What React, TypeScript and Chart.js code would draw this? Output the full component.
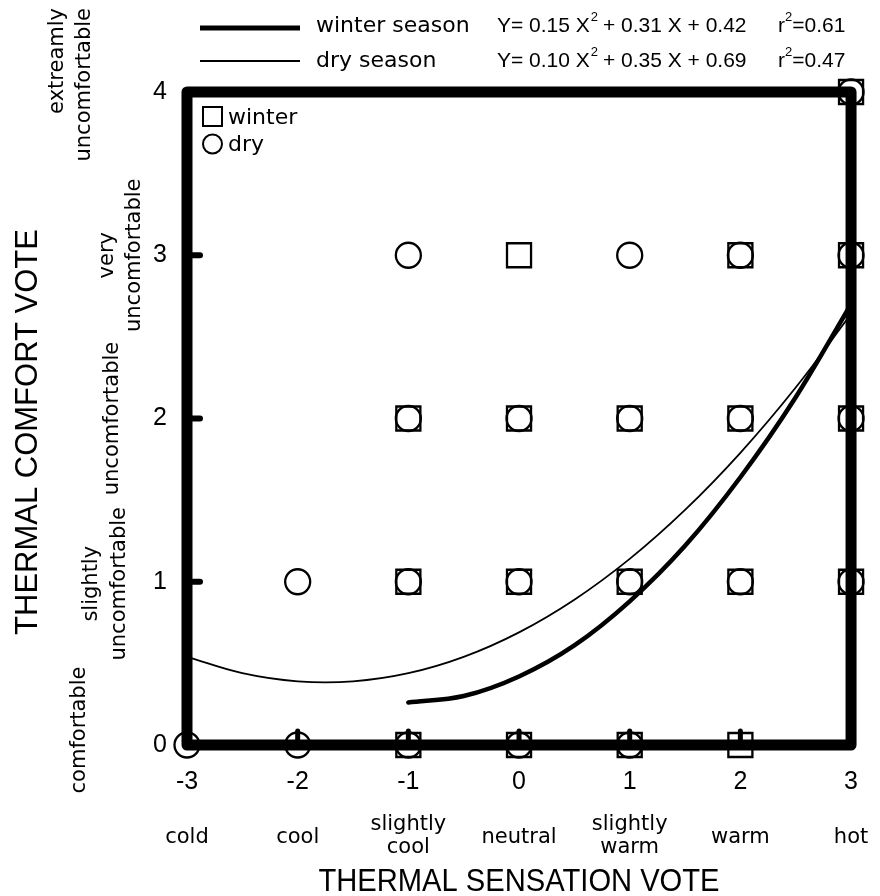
import React, { useEffect, useRef } from 'react';
import { Chart, registerables } from 'chart.js';

Chart.register(...registerables);

// ---- data ----
const winterX = [-1, 0, 1, 2, -1, 0, 1, 2, 3, -1, 0, 1, 2, 3, 0, 2, 3, 3];
const winterY = [0, 0, 0, 0, 1, 1, 1, 1, 1, 2, 2, 2, 2, 2, 3, 3, 3, 4];
const dryX = [-3, -2, -1, 0, 1, -2, -1, 0, 1, 2, 3, -1, 0, 1, 2, 3, -1, 1, 2, 3, 3];
const dryY = [0, 0, 0, 0, 0, 1, 1, 1, 1, 1, 1, 2, 2, 2, 2, 2, 3, 3, 3, 3, 4];

const winterFitX = [-1, -0.5, 0, 0.5, 1, 1.5, 2, 2.5, 3];
const winterFitY = [0.26, 0.3, 0.42, 0.61, 0.88, 1.22, 1.64, 2.13, 2.7];
const dryFitX = [-3, -2.5, -2, -1.5, -1, -0.5, 0, 0.5, 1, 1.5, 2, 2.5, 3];
const dryFitY = [0.54, 0.44, 0.39, 0.39, 0.44, 0.54, 0.69, 0.89, 1.14, 1.44, 1.79, 2.19, 2.64];

const xTickValues = [-3, -2, -1, 0, 1, 2, 3];
const xCategories = [['cold'], ['cool'], ['slightly', 'cool'], ['neutral'], ['slightly', 'warm'], ['warm'], ['hot']];
const yTickValues = [0, 1, 2, 3, 4];
const yCategories = [
  ['comfortable'],
  ['slightly', 'uncomfortable'],
  ['uncomfortable'],
  ['very', 'uncomfortable'],
  ['extreamly', 'uncomfortable'],
];
const xTitle = 'THERMAL SENSATION VOTE';
const yTitle = 'THERMAL COMFORT VOTE';
const seriesNames = ['winter season', 'dry season'];
const eqParts = [
  ['Y= 0.15 X', ' + 0.31 X + 0.42', '=0.61'],
  ['Y= 0.10 X', ' + 0.35 X + 0.69', '=0.47'],
];
const markerNames = ['winter', 'dry'];

// ---- styling / layout ----
const SANS = '"Liberation Sans", Arial, Helvetica, sans-serif';
const DEJA = '"DejaVu Sans", sans-serif';
// rotated y-category label placement: baselines (x) per line, and y offset from tick pixel
const yCatBaselines = [[85], [97, 125], [118], [113, 140], [63, 90]];
const yCatOffsets = [-15, 2, 0, 0, 0];

function pts(xs: number[], ys: number[]) {
  return xs.map((x, i) => ({ x, y: ys[i] }));
}

const decorPlugin = {
  id: 'decor',
  afterDatasetsDraw(chart: any) {
    const { ctx, chartArea } = chart;
    const xs = chart.scales.x;
    const ys = chart.scales.y;
    const { left, right, top, bottom } = chartArea;
    ctx.save();
    ctx.strokeStyle = '#000';
    ctx.lineCap = 'round';
    ctx.lineWidth = 6;
    [1, 2, 3].forEach((v) => {
      const py = ys.getPixelForValue(v);
      ctx.beginPath();
      ctx.moveTo(left, py);
      ctx.lineTo(left + 13, py);
      ctx.stroke();
    });
    ctx.lineWidth = 5;
    [-2, -1, 0, 1, 2].forEach((v) => {
      const px = xs.getPixelForValue(v);
      ctx.beginPath();
      ctx.moveTo(px, bottom);
      ctx.lineTo(px, bottom - 14);
      ctx.stroke();
    });
    ctx.lineWidth = 11;
    ctx.lineJoin = 'round';
    ctx.strokeRect(left, top, right - left, bottom - top);
    ctx.restore();
  },
  afterDraw(chart: any) {
    const { ctx, chartArea } = chart;
    const xs = chart.scales.x;
    const ys = chart.scales.y;
    ctx.save();
    ctx.fillStyle = '#000';
    ctx.strokeStyle = '#000';

    // x category labels
    ctx.font = `21px ${DEJA}`;
    ctx.textAlign = 'center';
    ctx.textBaseline = 'alphabetic';
    xCategories.forEach((lines, i) => {
      const px = xs.getPixelForValue(xTickValues[i]);
      if (lines.length === 1) ctx.fillText(lines[0], px, 843);
      else {
        ctx.fillText(lines[0], px, 830);
        ctx.fillText(lines[1], px, 853);
      }
    });

    // y category labels (rotated)
    yCategories.forEach((lines, i) => {
      const top = i === yCategories.length - 1;
      const py = top ? 8 : ys.getPixelForValue(yTickValues[i]) + yCatOffsets[i];
      lines.forEach((t, j) => {
        ctx.save();
        ctx.translate(yCatBaselines[i][j], py);
        ctx.rotate(-Math.PI / 2);
        ctx.textAlign = top ? 'right' : 'center';
        ctx.fillText(t, 0, 0);
        ctx.restore();
      });
    });
    ctx.textAlign = 'center';

    // axis titles
    ctx.font = `31px ${SANS}`;
    ctx.save();
    ctx.translate((chartArea.left + chartArea.right) / 2, 891);
    ctx.scale(0.94, 1);
    ctx.fillText(xTitle, 0, 0);
    ctx.restore();
    ctx.save();
    ctx.translate(37, 432);
    ctx.rotate(-Math.PI / 2);
    ctx.fillText(yTitle, 0, 0);
    ctx.restore();

    // top legend
    const lineYs = [28, 61];
    const lineWs = [5, 1.8];
    const baseYs = [32, 67];
    seriesNames.forEach((name, i) => {
      ctx.lineWidth = lineWs[i];
      ctx.lineCap = 'butt';
      ctx.beginPath();
      ctx.moveTo(200, lineYs[i]);
      ctx.lineTo(300, lineYs[i]);
      ctx.stroke();
      ctx.textAlign = 'left';
      ctx.font = `22px ${DEJA}`;
      ctx.fillText(name, 316, baseYs[i]);
      let x = 497;
      const by = baseYs[i];
      ctx.font = `21px ${SANS}`;
      ctx.fillText(eqParts[i][0], x, by);
      x += ctx.measureText(eqParts[i][0]).width;
      ctx.font = `13px ${SANS}`;
      ctx.fillText('2', x + 1, by - 11);
      x += ctx.measureText('2').width;
      ctx.font = `21px ${SANS}`;
      ctx.fillText(eqParts[i][1], x, by);
      let rx = 778;
      ctx.fillText('r', rx, by);
      rx += ctx.measureText('r').width;
      ctx.font = `13px ${SANS}`;
      ctx.fillText('2', rx, by - 11);
      rx += ctx.measureText('2').width;
      ctx.font = `21px ${SANS}`;
      ctx.fillText(eqParts[i][2], rx, by);
    });

    // inner marker legend
    ctx.lineWidth = 2;
    ctx.strokeRect(203, 107, 19, 19);
    ctx.beginPath();
    ctx.arc(212.5, 144, 9.5, 0, Math.PI * 2);
    ctx.stroke();
    ctx.font = `22px ${DEJA}`;
    ctx.textAlign = 'left';
    ctx.fillText(markerNames[0], 228, 124);
    ctx.fillText(markerNames[1], 228, 151);

    ctx.restore();
  },
};

export default function App() {
  const ref = useRef<HTMLCanvasElement | null>(null);
  useEffect(() => {
    if (!ref.current) return;
    const chart = new Chart(ref.current, {
      type: 'scatter',
      data: {
        datasets: [
          {
            label: seriesNames[0],
            data: pts(winterFitX, winterFitY),
            showLine: true,
            borderColor: '#000',
            borderWidth: 4.5,
            pointRadius: 0,
            cubicInterpolationMode: 'monotone',
            borderCapStyle: 'round',
            order: 0,
          },
          {
            label: seriesNames[1],
            data: pts(dryFitX, dryFitY),
            showLine: true,
            borderColor: '#000',
            borderWidth: 1.8,
            pointRadius: 0,
            tension: 0.4,
            order: 0,
          },
          {
            label: markerNames[0],
            data: pts(winterX, winterY),
            pointStyle: 'rect',
            pointRadius: 17,
            pointBorderWidth: 2.3,
            pointBorderColor: '#000',
            pointBackgroundColor: 'rgba(255,255,255,0)',
            clip: false,
            order: 2,
          },
          {
            label: markerNames[1],
            data: pts(dryX, dryY),
            pointStyle: 'circle',
            pointRadius: 12.5,
            pointBorderWidth: 2.3,
            pointBorderColor: '#000',
            pointBackgroundColor: 'rgba(255,255,255,0)',
            clip: false,
            order: 1,
          },
        ],
      } as any,
      options: {
        responsive: false,
        animation: false,
        devicePixelRatio: 1,
        layout: { padding: { left: 0, right: 25, top: 92, bottom: 0 } },
        plugins: { legend: { display: false }, tooltip: { enabled: false } },
        scales: {
          x: {
            type: 'linear',
            min: -3,
            max: 3,
            grid: { display: false, drawTicks: false },
            border: { display: false },
            ticks: {
              stepSize: 1,
              padding: 22,
              color: '#000',
              font: { family: SANS, size: 25 },
            },
            afterFit: (s: any) => {
              s.height = 151;
            },
          },
          y: {
            type: 'linear',
            min: 0,
            max: 4,
            grid: { display: false, drawTicks: false },
            border: { display: false },
            ticks: {
              stepSize: 1,
              padding: 20,
              color: '#000',
              font: { family: SANS, size: 25 },
            },
            afterFit: (s: any) => {
              s.width = 187;
            },
          },
        },
      } as any,
      plugins: [decorPlugin],
    });
    return () => chart.destroy();
  }, []);
  return (
    <div style={{ position: 'absolute', left: 0, top: 0, width: 880, height: 896, background: '#fff' }}>
      <canvas ref={ref} width={880} height={896} />
    </div>
  );
}
